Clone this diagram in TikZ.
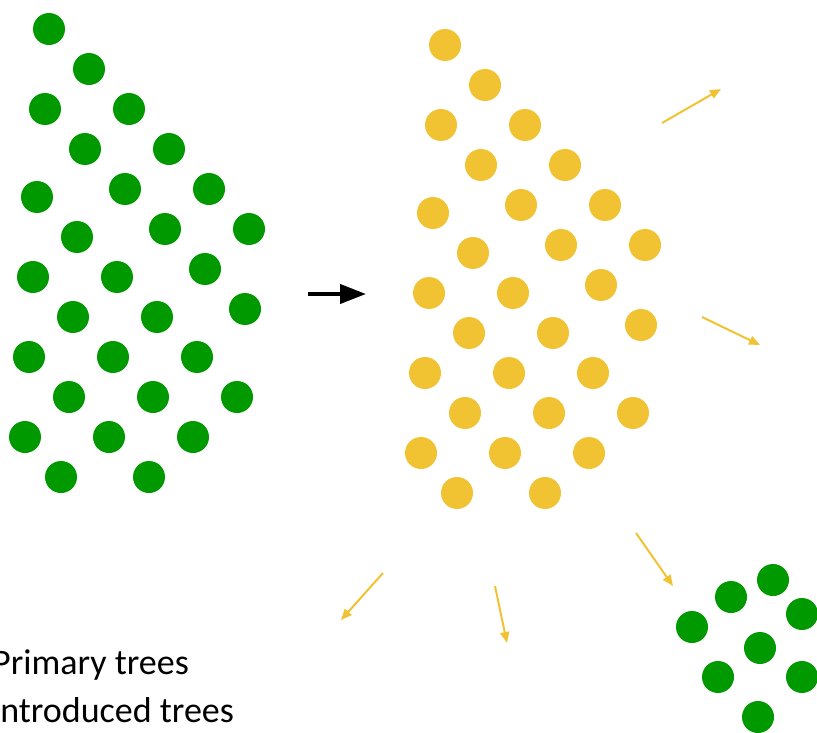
\documentclass[tikz,border=0pt]{standalone}
\usepackage{fontspec}
\setmainfont{Carlito}
\usetikzlibrary{arrows.meta}
\definecolor{tgreen}{RGB}{0,153,0}
\definecolor{tyellow}{RGB}{241,195,50}
\begin{document}
\begin{tikzpicture}[x=1pt,y=-1pt,
  dot/.style={circle,inner sep=0pt,minimum size=32pt,draw=none},
  gdot/.style={dot,fill=tgreen},
  ydot/.style={dot,fill=tyellow},
  sprout/.style={draw=tyellow,line width=2pt,-{Triangle[length=11pt,width=9pt]}},
  legendtext/.style={anchor=base west,font=\fontsize{36}{40}\selectfont,inner sep=0pt}]
\useasboundingbox (0,0) rectangle (817,733);
\clip (0,0) rectangle (817,733);
\foreach [count=\i] \px/\py in {49/29,89/69,45/109,129/109,85/149,169/149,37/197,125/189,209/189,77/237,165/229,249/229,
  33/277,117/277,205/269,73/317,157/317,245/309,29/357,113/357,197/357,69/397,153/397,237/397,25/437,109/437,193/437,61/477,149/477}
{
  \node[gdot] (g\i) at (\px,\py) {};
  \node[ydot] (y\i) at (\px+396,\py+16) {};
}
\foreach [count=\i] \px/\py in {773/580,731/597,802/614,692/627,760/648,718/677,802/677,758/717}
{
  \node[gdot] (s\i) at (\px,\py) {};
}
% black arrow
\coordinate (bs) at (308,294);
\coordinate (be) at (366,294);
\draw[line width=4pt,-{Triangle[length=26pt,width=19pt]}] (bs) -- (be);
% yellow arrows
\coordinate (a1s) at (662,123); \coordinate (a1e) at (721,89);
\coordinate (a2s) at (702,317); \coordinate (a2e) at (760,345);
\coordinate (a3s) at (383,573); \coordinate (a3e) at (341,620);
\coordinate (a4s) at (495,586); \coordinate (a4e) at (507,643);
\coordinate (a5s) at (636,533); \coordinate (a5e) at (673,586);
\draw[sprout] (a1s) -- (a1e);
\draw[sprout] (a2s) -- (a2e);
\draw[sprout] (a3s) -- (a3e);
\draw[sprout] (a4s) -- (a4e);
\draw[sprout] (a5s) -- (a5e);
% legend text
\node[legendtext] (t1) at (-8,674) {Primary trees};
\node[legendtext] (t2) at (-9,722) {Introduced trees};
\end{tikzpicture}
\end{document}
